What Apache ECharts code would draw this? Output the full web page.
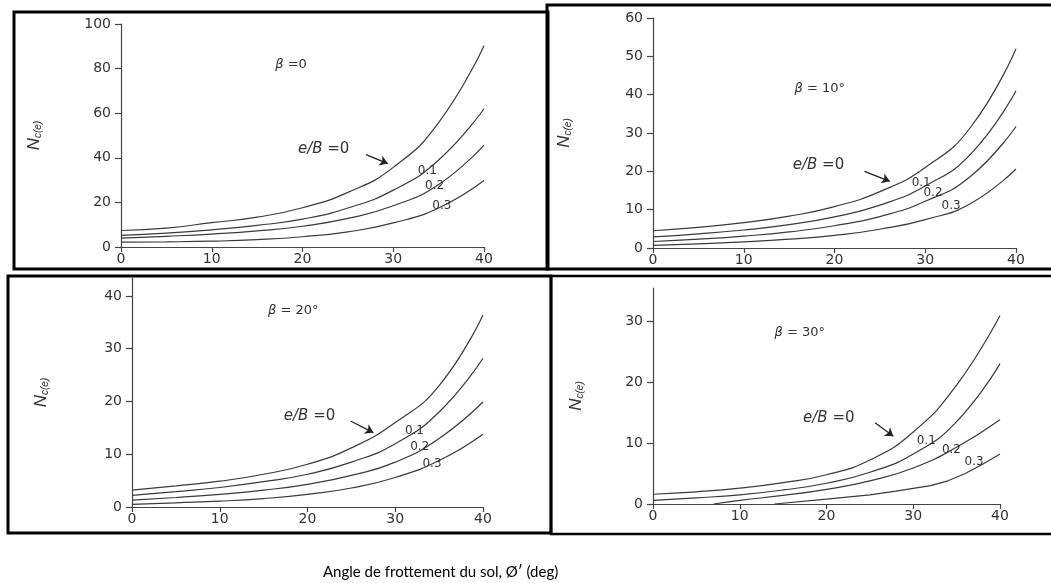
<!DOCTYPE html>
<html>
<head>
<meta charset="utf-8">
<script src="https://cdn.jsdelivr.net/npm/echarts@6/dist/echarts.min.js"></script>
<style>
  html, body { margin: 0; padding: 0; background: #fff; }
  #chart { width: 1051px; height: 583px; }
</style>
</head>
<body>
<div id="chart"></div>
<script>
// angle de frottement (deg)
var phi = [0, 5, 10, 15, 20, 25, 30, 35, 40];

// beta = 0
var b0_e0 = [7.4, 8.5, 10.9, 13.4, 17.6, 24.5, 35.7, 55.8, 90.3];
var b0_e1 = [5.2, 6.2, 7.7, 9.7, 12.5, 17.5, 25.5, 39, 62];
var b0_e2 = [4, 4.8, 5.8, 7.2, 9.3, 12.8, 18.5, 28, 45.7];
var b0_e3 = [2.2, 2.3, 2.6, 3.3, 4.6, 6.8, 10.8, 17.5, 29.8];

// beta = 10
var b10_e0 = [4.5, 5.4, 6.6, 8.3, 10.8, 14.7, 21, 31.5, 52];
var b10_e1 = [2.9, 3.7, 4.7, 6.1, 8.1, 11.2, 16.2, 24.5, 41];
var b10_e2 = [1.7, 2.3, 3.1, 4.2, 5.8, 8.2, 12.2, 18.7, 31.7];
var b10_e3 = [0.7, 1.1, 1.6, 2.3, 3.3, 4.9, 7.4, 11.6, 20.6];

// beta = 20
var b20_e0 = [3.2, 4, 4.9, 6.2, 8.1, 11.2, 16, 23, 36.4];
var b20_e1 = [2.2, 2.9, 3.7, 4.8, 6.2, 8.5, 12, 18, 28.2];
var b20_e2 = [1.3, 1.8, 2.4, 3.2, 4.3, 6, 8.5, 13, 19.9];
var b20_e3 = [0.5, 0.8, 1.1, 1.6, 2.4, 3.6, 5.6, 8.8, 13.8];

// beta = 30 (les courbes 0.2 et 0.3 partent plus loin)
var b30_e0 = [1.6, 2, 2.6, 3.5, 4.8, 7.2, 11.8, 19.5, 30.9];
var b30_e1 = [0.6, 1, 1.5, 2.3, 3.4, 5.2, 8.2, 13.5, 23];
var phi_b30_e2 = [7, 10, 15, 20, 25, 30, 35, 40];
var b30_e2 = [0, 0.6, 1.4, 2.4, 3.8, 5.9, 9.3, 13.8];
var phi_b30_e3 = [14, 20, 25, 28, 32, 34, 36, 38, 40];
var b30_e3 = [0, 0.8, 1.5, 2.1, 3.0, 3.8, 5.0, 6.5, 8.2];

var yTicks = [
  [0, 20, 40, 60, 80, 100],
  [0, 10, 20, 30, 40, 50, 60],
  [0, 10, 20, 30, 40],
  [0, 10, 20, 30]
];
var xTicks = [0, 10, 20, 30, 40];
var betaLabels = ['{i|β} =0', '{i|β} = 10°', '{i|β} = 20°', '{i|β} = 30°'];
var ratioLabels = ['0.1', '0.2', '0.3'];

function zip(xs, ys) {
  var out = [];
  for (var i = 0; i < xs.length; i++) out.push([xs[i], ys[i]]);
  return out;
}

var curves = [
  [zip(phi, b0_e0), zip(phi, b0_e1), zip(phi, b0_e2), zip(phi, b0_e3)],
  [zip(phi, b10_e0), zip(phi, b10_e1), zip(phi, b10_e2), zip(phi, b10_e3)],
  [zip(phi, b20_e0), zip(phi, b20_e1), zip(phi, b20_e2), zip(phi, b20_e3)],
  [zip(phi, b30_e0), zip(phi, b30_e1), zip(phi_b30_e2, b30_e2), zip(phi_b30_e3, b30_e3)]
];

// mise en page des 4 cadres
var grids = [
  { left: 121, top: 24, width: 363, height: 223, max: 100, nameGap: 78 },
  { left: 653, top: 18, width: 363, height: 230, max: 60, nameGap: 80 },
  { left: 132, top: 278, width: 351, height: 229, max: 43.4, nameGap: 82 },
  { left: 653, top: 288, width: 347, height: 216, max: 35.4, nameGap: 68 }
];

// annotations (coordonnées dans le repère de chaque graphe)
var notes = [
  { beta: [17, 82], eb: [19.5, 44], arrow: [[27, 41.4], [29.4, 37.4]],
    r: [[32.7, 34.2], [33.5, 27.5], [34.3, 18.5]] },
  { beta: [15.6, 41.7], eb: [15.4, 21.7], arrow: [[23.3, 20], [26.1, 17.4]],
    r: [[28.5, 17], [29.8, 14.5], [31.8, 10.9]] },
  { beta: [15.5, 37.2], eb: [17.3, 17.2], arrow: [[24.9, 16.3], [27.5, 14.1]],
    r: [[31.1, 14.4], [31.7, 11.4], [33.1, 8.2]] },
  { beta: [14, 28.1], eb: [17.3, 14.1], arrow: [[25.6, 13.3], [27.7, 11.1]],
    r: [[30.4, 10.4], [33.3, 8.9], [35.9, 6.9]] }
];

var axisColor = '#444';
var textColor = '#333';
var font = 'DejaVu Sans';

var option = {
  animation: false,
  grid: [],
  xAxis: [],
  yAxis: [],
  series: [],
  graphic: []
};

grids.forEach(function (g, i) {
  option.grid.push({ left: g.left, top: g.top, width: g.width, height: g.height });
  option.xAxis.push({
    gridIndex: i,
    type: 'value',
    min: 0,
    max: 40,
    interval: 10,
    axisLine: { show: true, onZero: false, lineStyle: { color: axisColor, width: 1.2 } },
    axisTick: { show: true, length: 5, customValues: xTicks, lineStyle: { color: axisColor, width: 1.2 } },
    axisLabel: { color: textColor, fontSize: 14, fontFamily: font, margin: 5, customValues: xTicks },
    splitLine: { show: false }
  });
  option.yAxis.push({
    gridIndex: i,
    type: 'value',
    min: 0,
    max: g.max,
    axisLine: { show: true, onZero: false, lineStyle: { color: axisColor, width: 1.2 } },
    axisTick: { show: true, length: 6, customValues: yTicks[i], lineStyle: { color: axisColor, width: 1.2 } },
    axisLabel: { color: textColor, fontSize: 14, fontFamily: font, margin: 10, customValues: yTicks[i] },
    splitLine: { show: false },
    name: '{n|N}{s|c(e)}',
    nameLocation: 'middle',
    nameRotate: 90,
    nameGap: g.nameGap,
    nameTextStyle: {
      rich: {
        n: { fontSize: 17, fontStyle: 'italic', fontFamily: 'Liberation Sans', color: textColor, verticalAlign: 'bottom', lineHeight: 20 },
        s: { fontSize: 10, fontStyle: 'italic', fontFamily: 'Liberation Sans', color: textColor, verticalAlign: 'bottom', lineHeight: 13 }
      }
    }
  });

  var n = notes[i];
  curves[i].forEach(function (data, k) {
    var s = {
      type: 'line',
      xAxisIndex: i,
      yAxisIndex: i,
      data: data,
      smooth: (i === 3 && k === 3) ? false : true,
      showSymbol: false,
      silent: true,
      lineStyle: { color: '#3a3a3a', width: 1.2 }
    };
    var pts = [];
    if (k === 0) {
      pts.push({ coord: n.beta, value: betaLabels[i],
        label: { fontSize: 13, rich: { i: { fontStyle: 'italic', fontSize: 13, fontFamily: font, color: textColor } } } });
      pts.push({ coord: n.eb, value: '{i|e/B} =0',
        label: { fontSize: 15, rich: { i: { fontStyle: 'italic', fontSize: 15, fontFamily: font, color: textColor } } } });
      s.markLine = {
        silent: true,
        symbol: ['none', 'arrow'],
        symbolSize: 8,
        label: { show: false },
        lineStyle: { color: '#222', width: 1.3, type: 'solid' },
        data: [[{ coord: n.arrow[0] }, { coord: n.arrow[1] }]]
      };
    } else {
      pts.push({ coord: n.r[k - 1], value: ratioLabels[k - 1], label: { fontSize: 12 } });
    }
    s.markPoint = {
      silent: true,
      symbol: 'circle',
      symbolSize: 0,
      label: {
        show: true,
        position: 'right',
        distance: 0,
        color: textColor,
        fontFamily: font,
        formatter: function (p) { return p.value; }
      },
      data: pts
    };
    option.series.push(s);
  });
});

// cadres noirs
option.graphic = [
  { type: 'rect', shape: { x: 14, y: 12, width: 534, height: 257 }, style: { fill: 'none', stroke: '#000', lineWidth: 3 }, silent: true },
  { type: 'rect', shape: { x: 547, y: 5, width: 510, height: 264 }, style: { fill: 'none', stroke: '#000', lineWidth: 3 }, silent: true },
  { type: 'rect', shape: { x: 8, y: 276, width: 543, height: 257 }, style: { fill: 'none', stroke: '#000', lineWidth: 3 }, silent: true },
  { type: 'rect', shape: { x: 551, y: 276, width: 505, height: 258 }, style: { fill: 'none', stroke: '#000', lineWidth: 2.5 }, silent: true },
  { type: 'text', left: 323, top: 565,
    style: { text: 'Angle de frottement du sol, Ø′ (deg)', fill: '#000', font: '15px Lato' }, silent: true }
];

var myChart = echarts.init(document.getElementById('chart'));
myChart.setOption(option);
window.addEventListener('resize', function () {
  myChart.resize();
});
</script>
</body>
</html>
